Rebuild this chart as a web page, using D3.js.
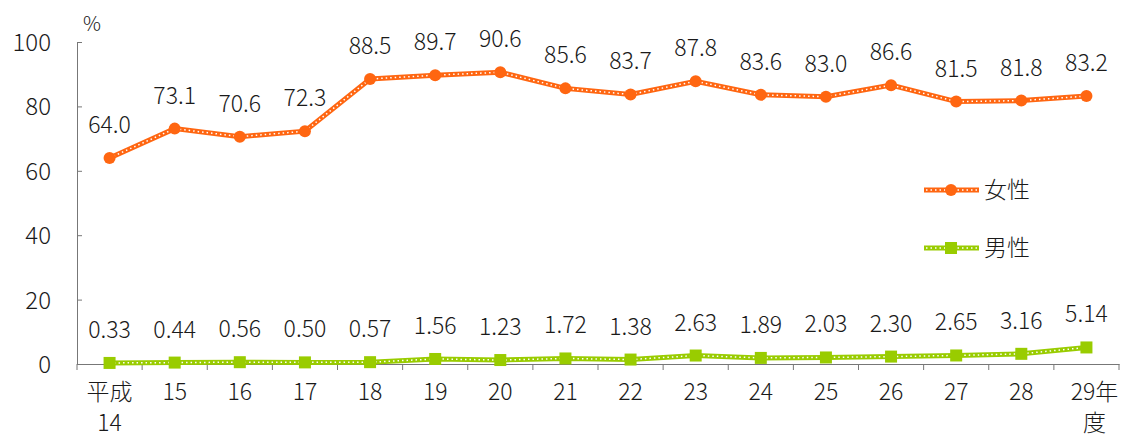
<!DOCTYPE html>
<html>
<head>
<meta charset="utf-8">
<script src="https://cdn.jsdelivr.net/npm/d3@7"></script>
<style>
  body { margin: 0; background: #fff; }
  text { font-family: "Noto Sans CJK JP", sans-serif; font-weight: 300; fill: #1a1a1a; }
</style>
</head>
<body>
<div id="graph"></div>
<script>
const years = ["14", "15", "16", "17", "18", "19", "20", "21", "22", "23", "24", "25", "26", "27", "28", "29"];
const women = [64.0, 73.1, 70.6, 72.3, 88.5, 89.7, 90.6, 85.6, 83.7, 87.8, 83.6, 83.0, 86.6, 81.5, 81.8, 83.2];
const men = [0.33, 0.44, 0.56, 0.50, 0.57, 1.56, 1.23, 1.72, 1.38, 2.63, 1.89, 2.03, 2.30, 2.65, 3.16, 5.14];
const yTicks = [0, 20, 40, 60, 80, 100];

(function() {
    const width = 1123, height = 438,
        left = 77, right = 1119, top = 42, bottom = 364;

    const x = d3.scaleBand().domain(years).range([left, right]);
    const y = d3.scaleLinear().domain([0, 100]).range([bottom, top]);
    const cx = (d, i) => x(years[i]) + x.bandwidth() / 2;

    const svg = d3.select("#graph").append("svg")
        .attr("width", width).attr("height", height);

    // y axis
    const yAxis = svg.append("g")
        .attr("transform", "translate(" + left + ",0)")
        .call(d3.axisRight(y).tickValues(yTicks).tickSize(5).tickFormat(""));
    yAxis.select(".domain").attr("stroke", "#777");
    yAxis.selectAll(".tick line").attr("stroke", "#777");
    svg.selectAll(".ylab").data(yTicks).enter().append("text")
        .attr("x", 51).attr("y", d => y(d) + 9)
        .attr("text-anchor", "end").attr("font-size", 24)
        .text(d => d);
    svg.append("text").attr("x", 83).attr("y", 31).attr("font-size", 20).text("%");

    // x axis
    const xAxis = svg.append("g")
        .attr("transform", "translate(0," + bottom + ")")
        .call(d3.axisBottom(x).tickSize(0).tickFormat(""));
    xAxis.select(".domain").attr("stroke", "#777");
    svg.append("g").selectAll("line").data(years.concat(["end"])).enter().append("line")
        .attr("x1", (d, i) => left + i * x.bandwidth())
        .attr("x2", (d, i) => left + i * x.bandwidth())
        .attr("y1", bottom).attr("y2", bottom + 6)
        .attr("stroke", "#777");

    const xl = svg.append("g").selectAll("text").data(years).enter().append("text")
        .attr("x", (d, i) => cx(d, i))
        .attr("y", 400)
        .attr("text-anchor", "middle").attr("font-size", 23);
    xl.each(function(d, i) {
        const t = d3.select(this);
        if (i === 0) {
            t.append("tspan").attr("x", cx(d, i)).attr("dy", 0).text("平成");
            t.append("tspan").attr("x", cx(d, i)).attr("dy", 31).text(d);
        } else if (i === years.length - 1) {
            t.append("tspan").attr("x", cx(d, i) + 8).attr("dy", 0).text(d + "年");
            t.append("tspan").attr("x", cx(d, i) + 8).attr("dy", 31).text("度");
        } else {
            t.text(d);
        }
    });

    const line = d3.line().x(cx).y(d => y(d));

    function series(data, color, marker, fmt) {
        const g = svg.append("g");
        g.append("path").datum(data).attr("d", line)
            .attr("fill", "none").attr("stroke", color).attr("stroke-width", 5);
        g.append("path").datum(data).attr("d", line)
            .attr("fill", "none").attr("stroke", "#fff").attr("stroke-width", 1.5)
            .attr("stroke-dasharray", "1.5,3");
        if (marker === "circle") {
            g.selectAll("circle").data(data).enter().append("circle")
                .attr("cx", cx).attr("cy", d => y(d)).attr("r", 6).attr("fill", color);
        } else {
            g.selectAll("rect").data(data).enter().append("rect")
                .attr("x", (d, i) => cx(d, i) - 6).attr("y", d => y(d) - 6)
                .attr("width", 12).attr("height", 12).attr("fill", color);
        }
        g.selectAll("text").data(data).enter().append("text")
            .attr("x", cx).attr("y", d => y(d) - 25)
            .attr("text-anchor", "middle").attr("font-size", 23)
            .text(fmt);
    }

    series(women, "#FF6611", "circle", d => d.toFixed(1));
    series(men, "#99CC00", "rect", d => d.toFixed(2));

    // legend
    const legend = [
        {name: "女性", color: "#FF6611", marker: "circle", y: 190},
        {name: "男性", color: "#99CC00", marker: "rect", y: 248}
    ];
    legend.forEach(l => {
        svg.append("line").attr("x1", 924).attr("x2", 979).attr("y1", l.y).attr("y2", l.y)
            .attr("stroke", l.color).attr("stroke-width", 5);
        svg.append("line").attr("x1", 926).attr("x2", 979).attr("y1", l.y).attr("y2", l.y)
            .attr("stroke", "#fff").attr("stroke-width", 1.5).attr("stroke-dasharray", "1.5,3");
        if (l.marker === "circle") {
            svg.append("circle").attr("cx", 951).attr("cy", l.y).attr("r", 6).attr("fill", l.color);
        } else {
            svg.append("rect").attr("x", 945).attr("y", l.y - 6).attr("width", 12).attr("height", 12).attr("fill", l.color);
        }
        svg.append("text").attr("x", 984).attr("y", l.y + 8).attr("font-size", 23).text(l.name);
    });
})();
</script>
</body>
</html>
